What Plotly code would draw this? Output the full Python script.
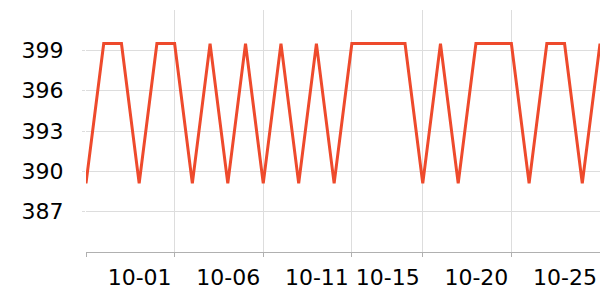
import plotly.graph_objects as go

dates = ["2024-09-26", "2024-09-27", "2024-09-28", "2024-09-29", "2024-09-30",
         "2024-10-01", "2024-10-02", "2024-10-03", "2024-10-04", "2024-10-05",
         "2024-10-06", "2024-10-07", "2024-10-08", "2024-10-09", "2024-10-10",
         "2024-10-11", "2024-10-12", "2024-10-13", "2024-10-14", "2024-10-15",
         "2024-10-16", "2024-10-17", "2024-10-18", "2024-10-19", "2024-10-20",
         "2024-10-21", "2024-10-22", "2024-10-23", "2024-10-24", "2024-10-25"]
values = [389.1, 399.5, 399.5, 389.1, 399.5,
          399.5, 389.1, 399.5, 389.1, 399.5,
          389.1, 399.5, 389.1, 399.5, 389.1,
          399.5, 399.5, 399.5, 399.5, 389.1,
          399.5, 389.1, 399.5, 399.5, 399.5,
          389.1, 399.5, 399.5, 389.1, 399.5]

x_tickvals = ["2024-09-26", "2024-10-01", "2024-10-06", "2024-10-11", "2024-10-15",
              "2024-10-20", "2024-10-25"]
x_ticktext = ["", "10-01", "10-06", "10-11", "10-15", "10-20", "10-25"]
y_tickvals = [387, 390, 393, 396, 399]

fig = go.Figure()
fig.add_trace(go.Scatter(
    x=dates, y=values, mode="lines",
    line=dict(color="#ee4a2c", width=3),
    hoverinfo="skip",
))

font = dict(family="DejaVu Sans", size=22, color="#000000")

fig.update_layout(
    width=600, height=300,
    margin=dict(l=86, r=0, t=10, b=48),
    paper_bgcolor="white", plot_bgcolor="white",
    showlegend=False,
    font=font,
    xaxis=dict(
        type="date",
        range=["2024-09-26", "2024-10-25"],
        tickmode="array", tickvals=x_tickvals, ticktext=x_ticktext,
        showgrid=True, gridcolor="#dddddd", gridwidth=1,
        showline=True, linecolor="#b0b0b0", linewidth=1,
        ticks="outside", ticklen=4, tickcolor="#b0b0b0",
        ticklabelshift=-35, ticklabelstandoff=2,
        tickfont=font, zeroline=False,
    ),
    yaxis=dict(
        range=[384, 402],
        tickmode="array", tickvals=y_tickvals,
        showgrid=True, gridcolor="#dddddd", gridwidth=1,
        showline=False,
        ticks="outside", ticklen=3, tickcolor="#dddddd",
        ticklabelstandoff=14,
        tickfont=font, zeroline=False,
    ),
)

fig.write_html("out.html")
